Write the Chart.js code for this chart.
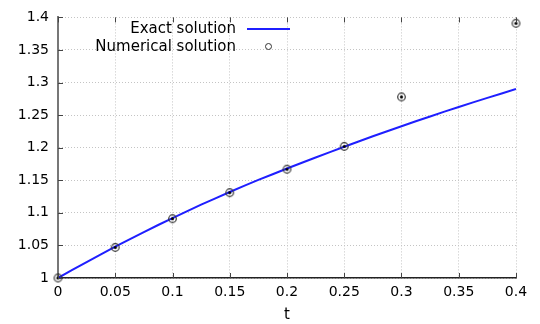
<!DOCTYPE html>
<html>
<head>
<meta charset="utf-8">
<script src="https://cdn.jsdelivr.net/npm/chart.js@4"></script>
<style>
  html, body { margin: 0; padding: 0; background: #fff; }
  #wrap { width: 540px; height: 324px; }
</style>
</head>
<body>
<div id="wrap"><canvas id="chart" width="540" height="324"></canvas></div>
<script>
  // data
  var exactT = [0, 0.025, 0.05, 0.075, 0.1, 0.125, 0.15, 0.175, 0.2, 0.225, 0.25, 0.275, 0.3, 0.325, 0.35, 0.375, 0.4];
  var exactY = [1, 1.0245, 1.048, 1.0705, 1.092, 1.1125, 1.132, 1.1505, 1.168, 1.185, 1.2015, 1.2175, 1.233, 1.248, 1.2625, 1.2765, 1.29];
  var numT = [0, 0.05, 0.1, 0.15, 0.2, 0.25, 0.3, 0.4];
  var numY = [1, 1.047, 1.091, 1.131, 1.167, 1.202, 1.278, 1.391];
  var xTicks = [0, 0.05, 0.1, 0.15, 0.2, 0.25, 0.3, 0.35, 0.4];
  var yTicks = [1, 1.05, 1.1, 1.15, 1.2, 1.25, 1.3, 1.35, 1.4];
  var seriesNames = ['Exact solution', 'Numerical solution'];

  var fontFamily = "'DejaVu Sans', sans-serif";
  var blue = '#1f1fff';

  // circle with dot marker like the plot
  var marker = document.createElement('canvas');
  marker.width = 11; marker.height = 11;
  (function() {
    var c = marker.getContext('2d');
    c.strokeStyle = '#333';
    c.lineWidth = 1.2;
    c.beginPath(); c.arc(5.5, 5.5, 3.8, 0, Math.PI * 2); c.stroke();
    c.fillStyle = '#000';
    c.beginPath(); c.arc(5.5, 5.5, 1.6, 0, Math.PI * 2); c.fill();
  })();

  function toXY(xs, ys) {
    return xs.map(function(x, i) { return { x: x, y: ys[i] }; });
  }

  var gnuplotLook = {
    id: 'gnuplotLook',
    afterDraw: function(chart) {
      var ctx = chart.ctx, a = chart.chartArea;
      var xs = chart.scales.x, ys = chart.scales.y;
      ctx.save();
      ctx.strokeStyle = '#444';
      ctx.lineWidth = 1;
      xTicks.forEach(function(v) {
        var px = Math.round(xs.getPixelForValue(v)) + 0.5;
        ctx.beginPath();
        ctx.moveTo(px, a.bottom); ctx.lineTo(px, a.bottom - 5);
        ctx.moveTo(px, a.top); ctx.lineTo(px, a.top + 5);
        ctx.stroke();
      });
      yTicks.forEach(function(v) {
        var py = Math.round(ys.getPixelForValue(v)) + 0.5;
        ctx.beginPath();
        ctx.moveTo(a.left, py); ctx.lineTo(a.left + 5, py);
        ctx.stroke();
      });

      // legend
      ctx.font = '15px ' + fontFamily;
      ctx.fillStyle = '#000';
      ctx.textAlign = 'right';
      ctx.textBaseline = 'middle';
      ctx.fillText(seriesNames[0], 236, 29);
      ctx.fillText(seriesNames[1], 236, 47);
      ctx.strokeStyle = blue;
      ctx.lineWidth = 2;
      ctx.beginPath(); ctx.moveTo(247, 29); ctx.lineTo(290, 29); ctx.stroke();
      ctx.strokeStyle = '#333';
      ctx.lineWidth = 1;
      ctx.beginPath(); ctx.arc(268.5, 46.5, 3, 0, Math.PI * 2); ctx.stroke();
      ctx.restore();
    }
  };

  new Chart(document.getElementById('chart'), {
    type: 'scatter',
    data: {
      datasets: [
        {
          label: seriesNames[0],
          data: toXY(exactT, exactY),
          showLine: true,
          borderColor: blue,
          borderWidth: 2,
          pointRadius: 0,
          tension: 0.3,
          order: 2
        },
        {
          label: seriesNames[1],
          data: toXY(numT, numY),
          showLine: false,
          pointStyle: marker,
          pointRadius: 5,
          clip: false,
          order: 1
        }
      ]
    },
    options: {
      responsive: false,
      animation: false,
      layout: { padding: { top: 15, right: 24, left: 0, bottom: 0 } },
      plugins: {
        legend: { display: false },
        tooltip: { enabled: false }
      },
      scales: {
        x: {
          type: 'linear',
          min: 0, max: 0.4,
          afterBuildTicks: function(s) { s.ticks = xTicks.map(function(v) { return { value: v }; }); },
          afterFit: function(s) { s.height = 46; },
          grid: { color: '#c4c4c4', lineWidth: 1, drawTicks: false },
          border: { display: true, color: '#222', width: 1.5, dash: [1, 2] },
          ticks: { color: '#000', padding: 6, maxRotation: 0, font: { size: 14, family: fontFamily },
                   callback: function(v) { return String(v); } },
          title: { display: true, text: 't', color: '#000', padding: { top: 0, bottom: 0 },
                   font: { size: 15, family: fontFamily } }
        },
        y: {
          type: 'linear',
          min: 1, max: 1.4,
          afterBuildTicks: function(s) { s.ticks = yTicks.map(function(v) { return { value: v }; }); },
          afterFit: function(s) { s.width = 58; },
          grid: { color: '#c4c4c4', lineWidth: 1, drawTicks: false },
          border: { display: true, color: '#777', width: 2, dash: [1, 2] },
          ticks: { color: '#000', padding: 9, font: { size: 14, family: fontFamily },
                   callback: function(v) { return String(v); } }
        }
      }
    },
    plugins: [gnuplotLook]
  });
</script>
</body>
</html>
